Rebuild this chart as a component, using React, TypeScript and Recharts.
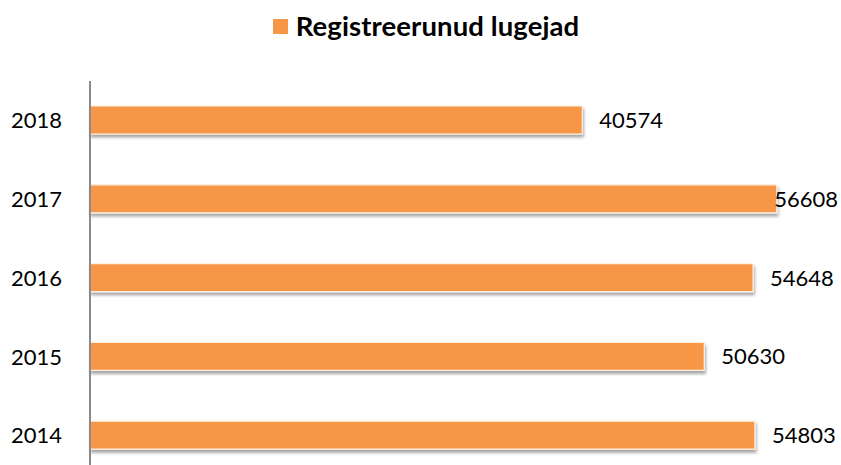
import { BarChart, Bar, XAxis, YAxis, Legend, LabelList, Rectangle } from 'recharts';

const years = ['2018', '2017', '2016', '2015', '2014'];
const readers = [40574, 56608, 54648, 50630, 54803];
const seriesName = 'Registreerunud lugejad';
const xTicks = [0, 60000];

const data = years.map((year, i) => ({ year, readers: readers[i] }));

const ORANGE = '#F79646';
const FONT = 'Lato, "Open Sans", sans-serif';
const LABEL_RIGHT = 830;

function ShadowBar(props: any) {
  return <Rectangle {...props} fill={ORANGE} stroke="#fdf1e6" strokeWidth={1.2} filter="url(#barShadow)" />;
}

function ValueLabel(props: any) {
  const { x, y, width, height, value } = props;
  let lx = x + width + 17;
  let anchor: 'start' | 'end' = 'start';
  // keep the label inside the chart, as the original does for the longest bar
  if (lx + 66 > LABEL_RIGHT) {
    lx = LABEL_RIGHT;
    anchor = 'end';
  }
  return (
    <text x={lx} y={y + height / 2} dy="0.36em" textAnchor={anchor} fontSize={22} fontFamily={FONT} fill="#000">
      {value}
    </text>
  );
}

function LegendBox() {
  return (
    <div style={{ height: 73, display: 'flex', justifyContent: 'center', alignItems: 'flex-start', paddingLeft: 26, boxSizing: 'border-box' }}>
      <div style={{ display: 'flex', alignItems: 'center', marginTop: 3 }}>
        <span style={{ width: 15, height: 15, background: ORANGE, display: 'inline-block', marginRight: 8 }} />
        <span style={{ fontFamily: FONT, fontWeight: 700, fontSize: 27.5, letterSpacing: 0.1, color: '#000', lineHeight: '30px' }}>{seriesName}</span>
      </div>
    </div>
  );
}

export default function App() {
  return (
    <div
      style={{
        position: 'fixed',
        top: 0,
        left: 0,
        width: 841,
        height: 465,
        overflow: 'hidden',
        background: '#fff',
        padding: 8,
        boxSizing: 'border-box',
      }}
    >
      <BarChart width={833} height={467} data={data} layout="vertical" margin={{ top: 0, right: 23, bottom: 0, left: 0 }}>
        <defs>
          <filter id="barShadow" x="-5%" y="-40%" width="110%" height="200%">
            <feDropShadow dx={1} dy={3} stdDeviation={1.6} floodColor="#000" floodOpacity={0.35} />
          </filter>
        </defs>
        <Legend verticalAlign="top" content={() => <LegendBox />} />
        <XAxis type="number" domain={[0, 60000]} ticks={xTicks} hide />
        <YAxis
          type="category"
          dataKey="year"
          width={82}
          axisLine={{ stroke: '#8a8a8a', strokeWidth: 2 }}
          tickLine={false}
          tickSize={0}
          tickMargin={28}
          tick={{ fill: '#000', fontSize: 22, fontFamily: FONT }}
        />
        <Bar dataKey="readers" name={seriesName} barSize={28} shape={<ShadowBar />} isAnimationActive={false}>
          <LabelList dataKey="readers" content={<ValueLabel />} />
        </Bar>
      </BarChart>
    </div>
  );
}
